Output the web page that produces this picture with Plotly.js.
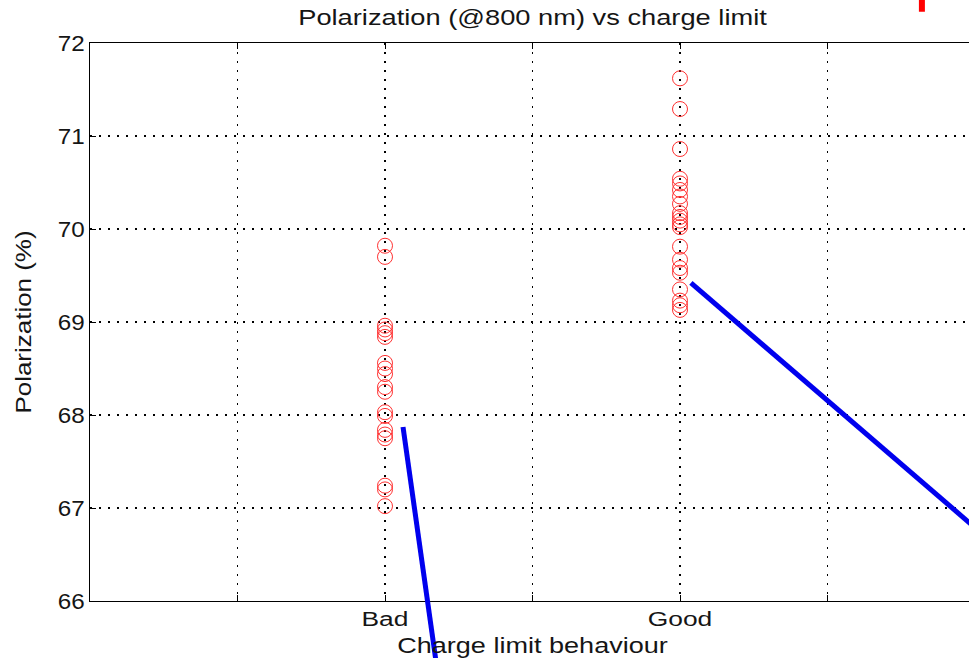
<!DOCTYPE html>
<html><head><meta charset="utf-8">
<script src="https://cdn.plot.ly/plotly-3.0.1.min.js"></script>
<style>
html,body{margin:0;padding:0;overflow:hidden;background:#fff}
#plot{width:985px;height:658px}
</style>
</head><body><div id="plot"></div>
<script>
const categories = ["Bad", "Good"];
const categoryPos = [2, 4];
const tickPositions = [1, 2, 3, 4, 5];
const tickLabels = ["", "Bad", "", "Good", ""];
const badValues = [69.82, 69.70, 68.96, 68.92, 68.88, 68.84, 68.56, 68.50, 68.44, 68.30, 68.25, 68.03, 67.99, 67.84, 67.79, 67.75, 67.24, 67.20, 67.02];
const goodValues = [71.62, 71.29, 70.86, 70.54, 70.49, 70.42, 70.35, 70.27, 70.17, 70.13, 70.09, 70.05, 70.02, 69.81, 69.67, 69.58, 69.53, 69.35, 69.23, 69.18, 69.13];

const xs = [], ys = [];
badValues.forEach(v => { xs.push(categoryPos[0]); ys.push(v); });
goodValues.forEach(v => { xs.push(categoryPos[1]); ys.push(v); });

const trace = {
  x: xs, y: ys, type: "scatter", mode: "markers",
  marker: {symbol: "circle-open", size: 15, color: "#ff3030", line: {width: 1, color: "#ff3030"}},
  hoverinfo: "y", showlegend: false
};

const font = {family: "Liberation Sans, Arial, sans-serif", color: "#151515"};
const layout = {
  width: 985, height: 658,
  margin: {l: 90, r: 10, t: 43, b: 57},
  paper_bgcolor: "#fff", plot_bgcolor: "#fff",
  title: {text: "Polarization (@800 nm) vs charge limit", font: Object.assign({size: 22}, font), x: 0.5, xref: "paper", y: 0.973, yanchor: "middle"},
  xaxis: {
    range: [0, 6], tickvals: tickPositions, ticktext: tickLabels,
    ticks: "inside", ticklen: 6, tickcolor: "#000", showline: true, linecolor: "#000", linewidth: 1, mirror: "ticks",
    showgrid: true, gridcolor: "#000", gridwidth: 1.5, griddash: "2px,7px", zeroline: false,
    tickfont: Object.assign({size: 20}, font),
    title: {text: "Charge limit behaviour", font: Object.assign({size: 22}, font), standoff: 8}
  },
  yaxis: {
    range: [66, 72], dtick: 1, tick0: 66,
    ticks: "inside", ticklen: 6, tickcolor: "#000", showline: true, linecolor: "#000", linewidth: 1, mirror: "ticks",
    showgrid: true, gridcolor: "#000", gridwidth: 1.5, griddash: "2px,7px", zeroline: false,
    tickfont: Object.assign({size: 22}, font),
    title: {text: "Polarization (%)", font: Object.assign({size: 22}, font), standoff: 22}
  },
  shapes: [
    {type: "line", xref: "paper", yref: "paper", x0: 0.3537, y0: 0.3118, x1: 0.392, y1: -0.12, line: {color: "#0000ee", width: 5}},
    {type: "line", xref: "paper", yref: "paper", x0: 0.679, y0: 0.570, x1: 1.011, y1: 0.1165, line: {color: "#0000ee", width: 5}},
    {type: "line", xref: "paper", yref: "paper", x0: 0.940, y0: 1.08, x1: 0.940, y1: 1.056, line: {color: "#ff0000", width: 6}}
  ]
};

// widen glyphs along the text direction about each text's anchor point
function stretch(selector, sx) {
  document.querySelectorAll(selector).forEach(t => {
    const x = parseFloat(t.getAttribute("x")) || 0;
    const y = parseFloat(t.getAttribute("y")) || 0;
    const tr = t.getAttribute("transform") || "";
    t.setAttribute("transform", tr + " translate(" + x + "," + y + ") scale(" + sx + ",1) translate(" + (-x) + "," + (-y) + ")");
  });
}

Plotly.newPlot("plot", [trace], layout, {displayModeBar: false, staticPlot: true}).then(() => {
  stretch("#plot .gtitle", 1.24);
  stretch("#plot .ytitle", 1.18);
  stretch("#plot .xtitle", 1.23);
  stretch("#plot .xtick text", 1.32);
  stretch("#plot .ytick text", 1.1);
});
</script></body></html>
